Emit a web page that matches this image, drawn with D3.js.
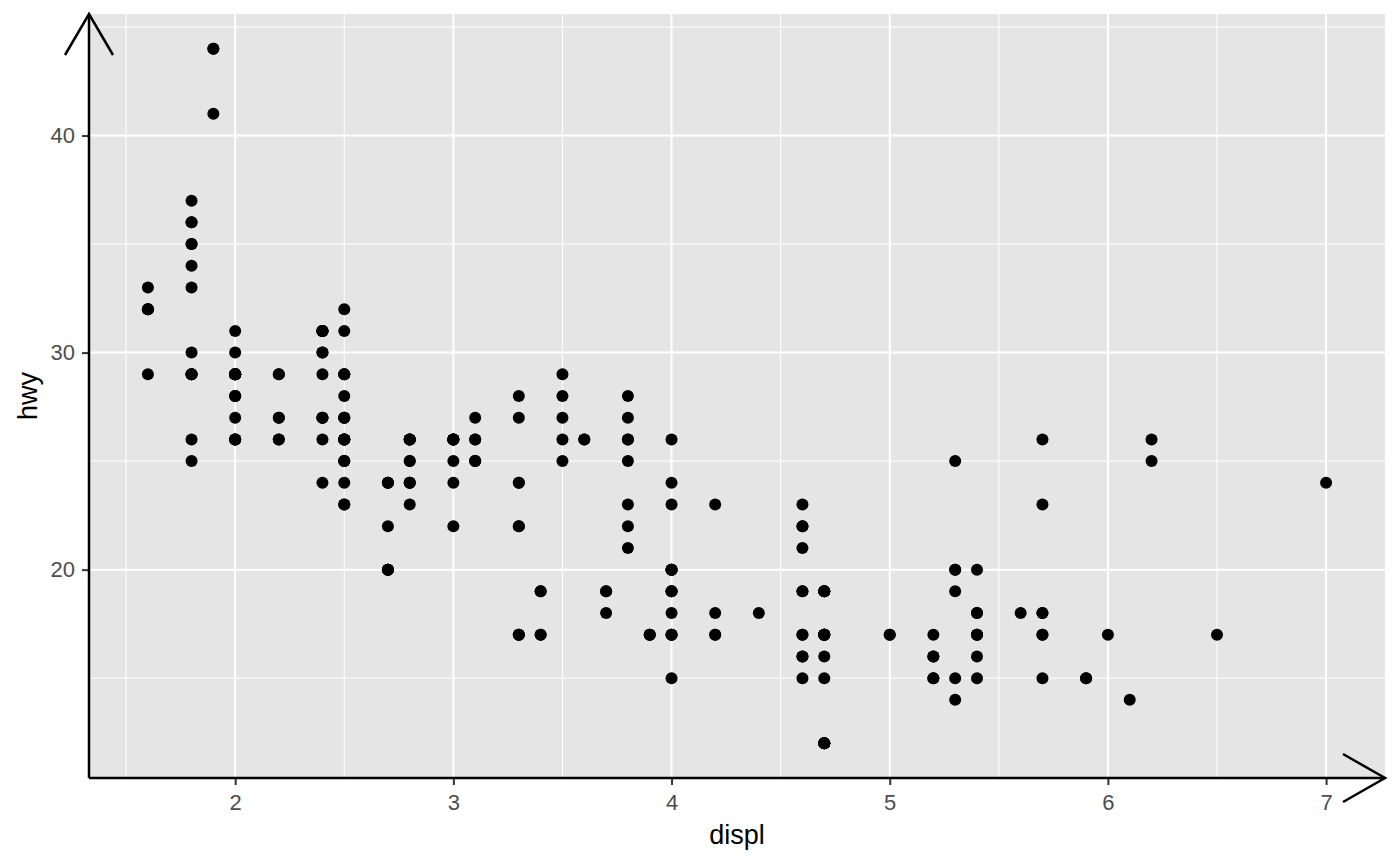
<!DOCTYPE html>
<html>
<head>
<meta charset="utf-8">
<script src="https://cdn.jsdelivr.net/npm/d3@7"></script>
<style>
body{margin:0;background:#fff;}
text{font-family:"Liberation Sans",Arial,sans-serif;}
</style>
</head>
<body>
<svg id="chart" width="1400" height="866"></svg>
<script>
// mpg: displ / hwy
var displ = [1.8,1.8,2.0,2.0,2.8,2.8,3.1,1.8,1.8,2.0,2.0,2.8,2.8,3.1,3.1,2.8,3.1,4.2,
5.3,5.3,5.3,5.7,6.0,5.7,5.7,6.2,6.2,7.0,5.3,5.3,5.7,6.5,2.4,2.4,3.1,3.5,3.6,
2.4,3.0,3.3,3.3,3.3,3.3,3.3,3.8,3.8,3.8,4.0,3.7,3.7,3.9,3.9,4.7,4.7,4.7,5.2,5.2,
3.9,4.7,4.7,4.7,5.2,5.9,4.7,4.7,4.7,4.7,4.7,4.7,4.7,5.2,5.2,5.7,5.9,4.6,5.4,5.4,
4.0,4.0,4.0,4.0,4.6,5.0,4.2,4.2,4.6,4.6,4.6,5.4,5.4,3.8,3.8,4.0,4.0,4.6,4.6,4.6,4.6,5.4,
1.6,1.6,1.6,1.6,1.6,1.8,1.8,1.8,2.0,2.4,2.4,2.4,2.4,2.5,2.5,3.3,2.0,2.0,2.0,2.0,2.7,2.7,2.7,
3.0,3.7,4.0,4.7,4.7,4.7,5.7,6.1,4.0,4.2,4.4,4.6,5.4,5.4,5.4,4.0,4.0,4.6,5.0,
2.4,2.4,2.5,2.5,3.5,3.5,3.0,3.0,3.5,3.3,3.3,4.0,5.6,3.1,3.8,3.8,3.8,5.3,
2.5,2.5,2.5,2.5,2.5,2.5,2.2,2.2,2.5,2.5,2.5,2.5,2.5,2.5,2.7,2.7,3.4,3.4,4.0,4.7,
2.2,2.2,2.4,2.4,3.0,3.0,3.5,2.2,2.2,2.4,2.4,3.0,3.0,3.3,1.8,1.8,1.8,1.8,1.8,4.7,5.7,
2.7,2.7,2.7,3.4,3.4,4.0,4.0,2.0,2.0,2.0,2.0,2.8,1.9,2.0,2.0,2.0,2.0,2.5,2.5,2.8,2.8,
1.9,1.9,2.0,2.0,2.5,2.5,1.8,1.8,2.0,2.0,2.8,2.8,3.6];
var hwy = [29,29,31,30,26,26,27,26,25,28,27,25,25,25,25,24,25,23,
20,15,20,17,17,26,23,26,25,24,19,14,15,17,27,30,26,29,26,
24,24,22,22,24,24,17,22,21,23,23,19,18,17,17,19,19,12,17,15,
17,17,12,17,16,15,17,12,17,16,17,12,17,15,16,17,15,17,17,18,
17,19,17,19,19,17,17,17,16,16,17,15,17,26,25,26,24,21,22,23,22,20,
33,32,32,29,32,34,36,36,29,26,27,30,31,26,26,28,26,29,28,29,24,24,24,
22,19,20,17,12,19,18,14,15,18,18,15,17,16,18,17,19,19,17,
29,27,31,32,27,26,26,25,25,17,17,20,18,26,26,27,28,25,
25,24,27,25,26,23,26,26,26,26,27,23,27,25,20,20,19,17,20,19,
29,27,31,31,26,26,28,27,29,31,31,26,26,27,30,33,35,37,35,15,18,
20,20,22,17,19,18,20,29,26,29,29,24,44,29,26,29,29,29,29,23,24,
44,41,29,26,28,29,29,29,28,29,26,26,26];

var xTicks = [2,3,4,5,6,7];
var xMinor = [1.5,2.5,3.5,4.5,5.5,6.5];
var yTicks = [20,30,40];
var yMinor = [15,25,35,45];

var svg = d3.select("#chart");
var padL = 89, padR = 1385, padT = 14, padB = 778;

var x = d3.scaleLinear().domain([1.33,7.27]).range([padL,padR]);
var y = d3.scaleLinear().domain([10.4,45.6]).range([padB,padT]);

svg.append("rect")
	.attr("x",padL).attr("y",padT)
	.attr("width",padR-padL).attr("height",padB-padT)
	.attr("fill","#e5e5e5");

var grid = svg.append("g");
grid.selectAll(".vmin").data(xMinor).enter().append("line")
	.attr("x1",function(d){return x(d)}).attr("x2",function(d){return x(d)})
	.attr("y1",padT).attr("y2",padB)
	.attr("stroke","#fff").attr("stroke-width",1);
grid.selectAll(".hmin").data(yMinor).enter().append("line")
	.attr("y1",function(d){return y(d)}).attr("y2",function(d){return y(d)})
	.attr("x1",padL).attr("x2",padR)
	.attr("stroke","#fff").attr("stroke-width",1);
grid.selectAll(".vmaj").data(xTicks).enter().append("line")
	.attr("x1",function(d){return x(d)}).attr("x2",function(d){return x(d)})
	.attr("y1",padT).attr("y2",padB)
	.attr("stroke","#fff").attr("stroke-width",2);
grid.selectAll(".hmaj").data(yTicks).enter().append("line")
	.attr("y1",function(d){return y(d)}).attr("y2",function(d){return y(d)})
	.attr("x1",padL).attr("x2",padR)
	.attr("stroke","#fff").attr("stroke-width",2);

svg.append("g").selectAll("circle")
	.data(displ)
	.enter()
	.append("circle")
	.attr("cx",function(d){return x(d)})
	.attr("cy",function(d,i){return y(hwy[i])})
	.attr("r",6)
	.attr("fill","#000");

// axes, ggplot-ish ticks
var xAxis = d3.axisBottom(x).tickValues(xTicks).tickSize(7).tickPadding(9).tickFormat(d3.format("d"));
var gx = svg.append("g").attr("transform","translate(0,"+padB+")").call(xAxis)
	.attr("font-size",22).attr("font-family","Liberation Sans, Arial, sans-serif");
gx.select(".domain").remove();
gx.selectAll("line").attr("stroke","#333").attr("stroke-width",2);
gx.selectAll("text").attr("fill","#4d4d4d").style("font-size","22px");

var yAxis = d3.axisLeft(y).tickValues(yTicks).tickSize(7).tickPadding(7);
var gy = svg.append("g").attr("transform","translate("+padL+",0)").call(yAxis)
	.attr("font-size",22).attr("font-family","Liberation Sans, Arial, sans-serif");
gy.select(".domain").remove();
gy.selectAll("line").attr("stroke","#333").attr("stroke-width",2);
gy.selectAll("text").attr("fill","#4d4d4d").style("font-size","22px");

// axis lines with open arrows
function arrowStyle(sel){
	sel.attr("fill","none").attr("stroke","#000").attr("stroke-width",2.5).attr("stroke-linejoin","miter");
}
svg.append("path").attr("d","M"+padL+","+padB+"L"+padL+","+padT).call(arrowStyle);
svg.append("path").attr("d","M"+(padL-24)+","+(padT+41)+"L"+padL+","+padT+"L"+(padL+24)+","+(padT+41)).call(arrowStyle);
svg.append("path").attr("d","M"+padL+","+padB+"L"+padR+","+padB).call(arrowStyle);
svg.append("path").attr("d","M"+(padR-42)+","+(padB-24)+"L"+padR+","+padB+"L"+(padR-42)+","+(padB+24)).call(arrowStyle);

svg.append("text")
	.attr("x",(padL+padR)/2).attr("y",844)
	.attr("text-anchor","middle")
	.style("font-size","27px")
	.text("displ");

svg.append("text")
	.attr("transform","translate(37,"+((padT+padB)/2)+") rotate(-90)")
	.attr("text-anchor","middle")
	.style("font-size","27px")
	.text("hwy");
</script>
</body>
</html>
